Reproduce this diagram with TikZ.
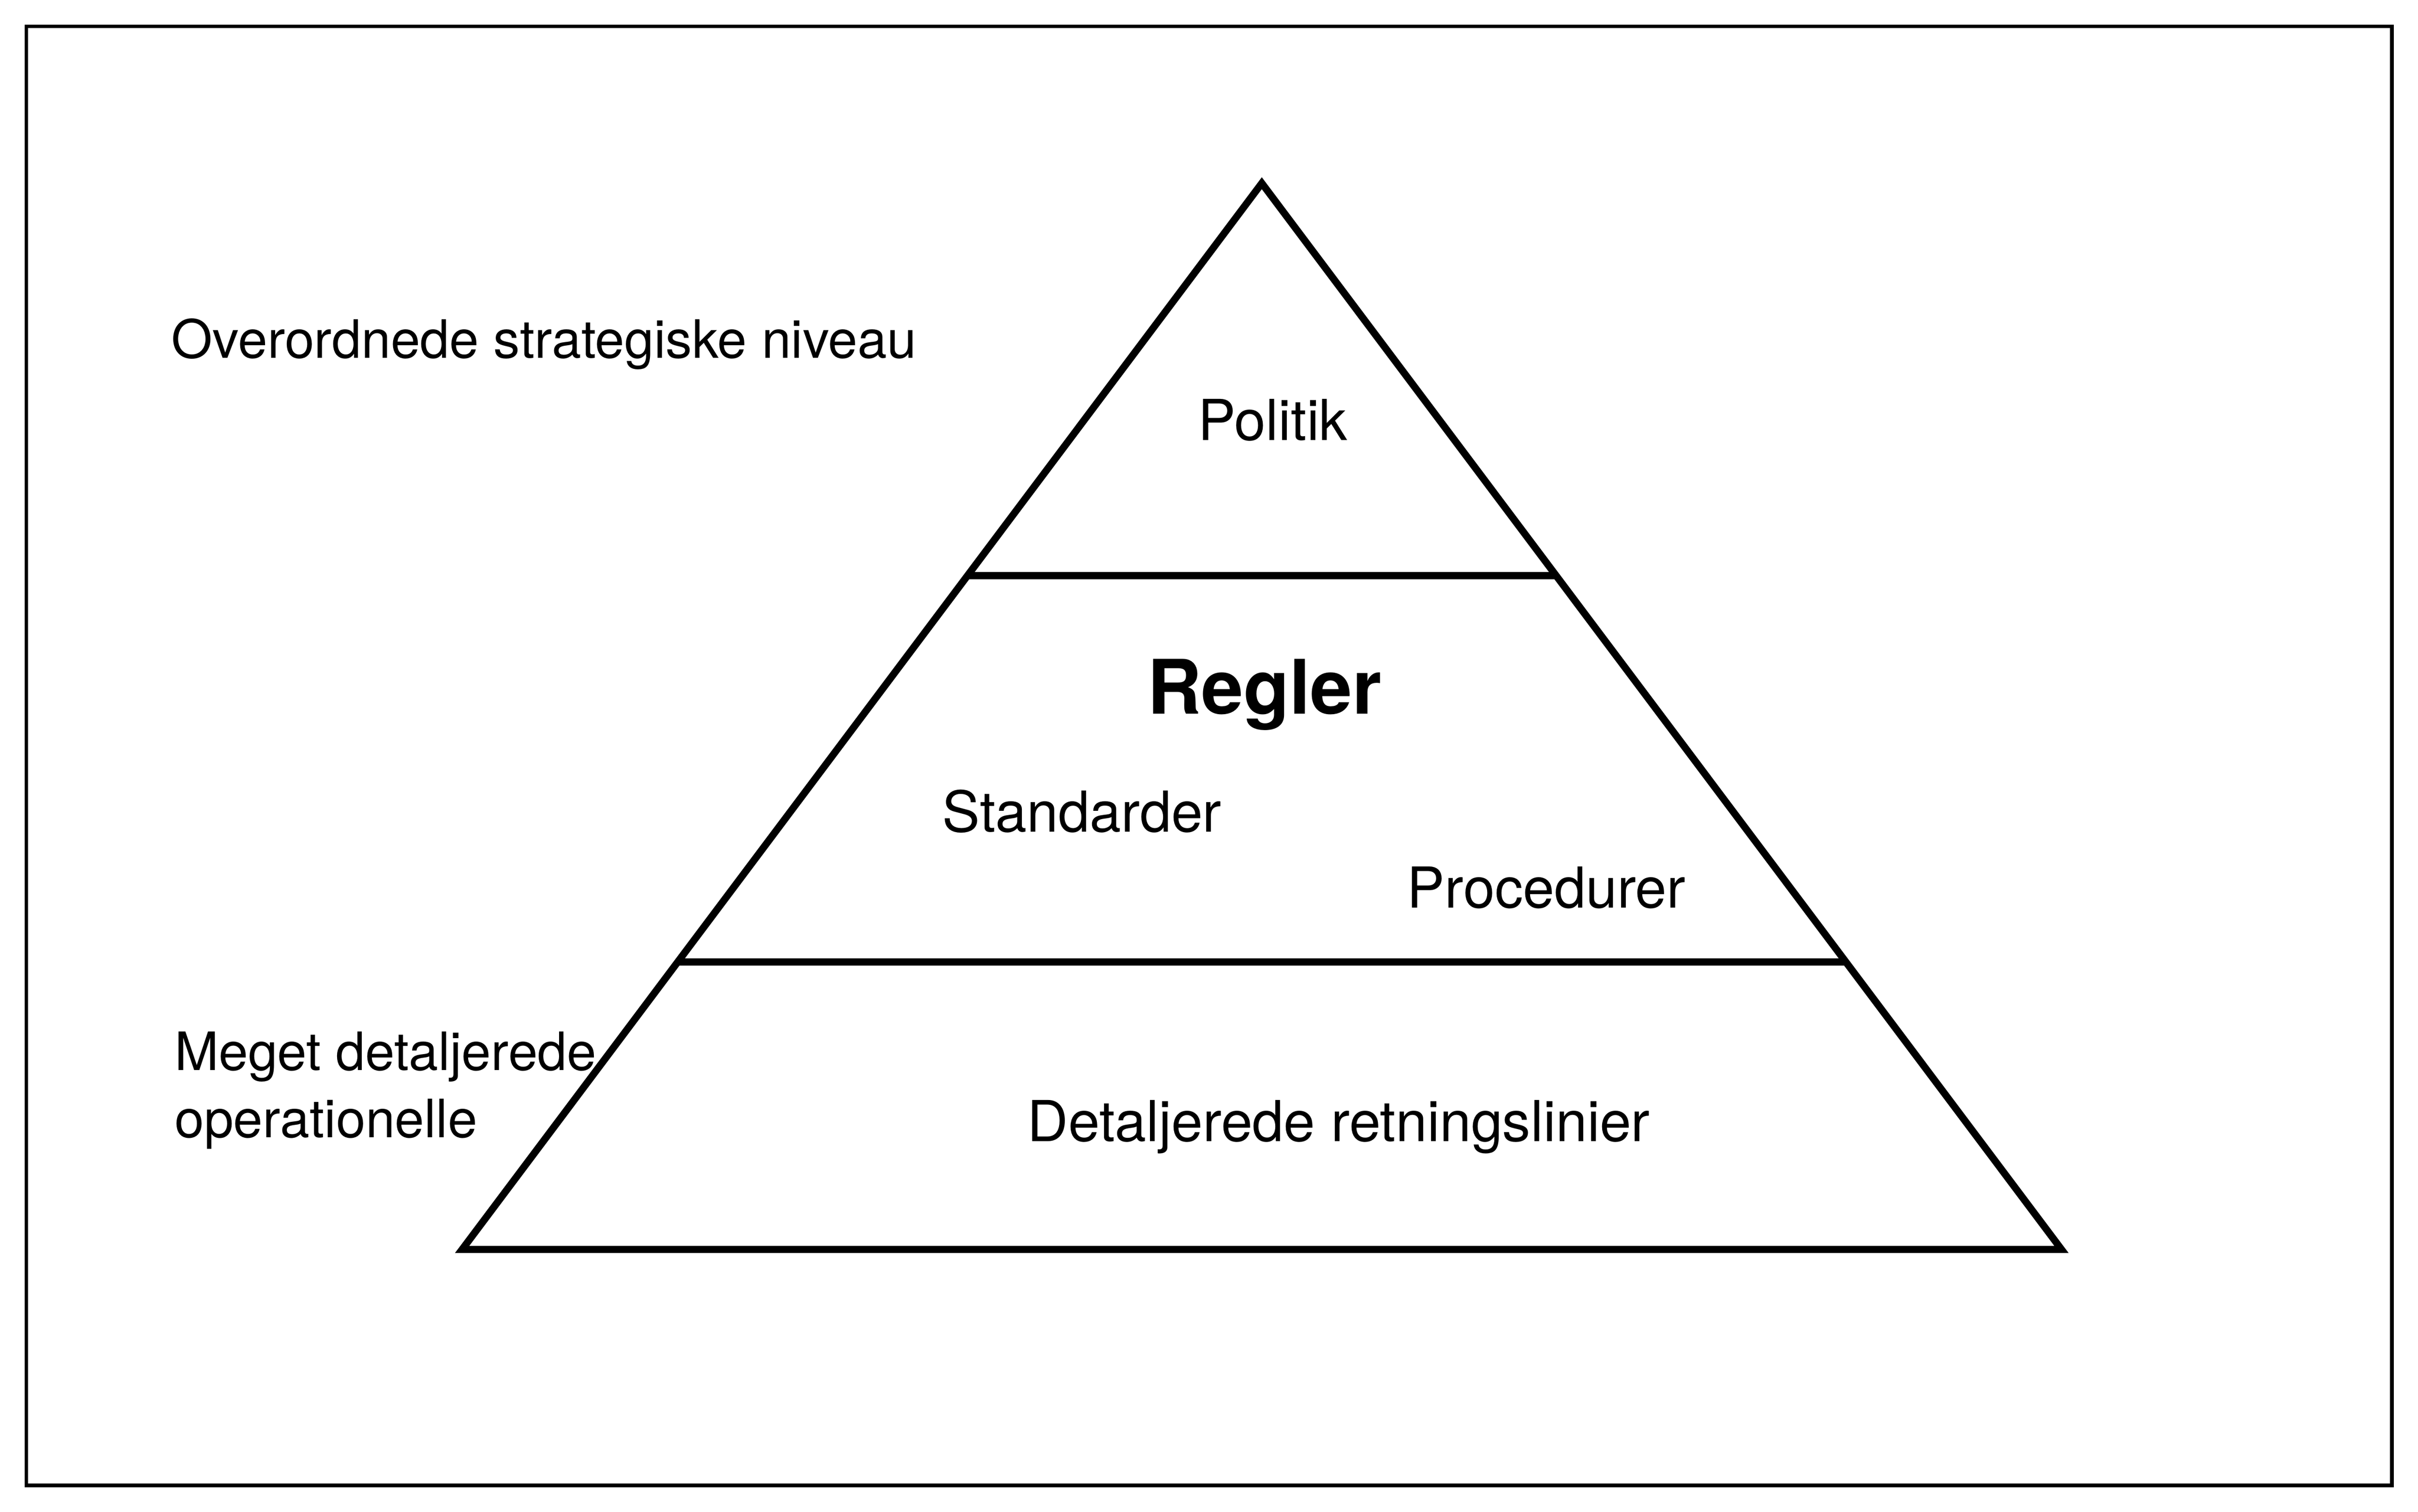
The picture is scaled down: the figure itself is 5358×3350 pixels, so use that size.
\documentclass[tikz,border=0pt]{standalone}
\usepackage{fontspec}
\setmainfont{TeX Gyre Heros}
\usetikzlibrary{calc}

\begin{document}
\begin{tikzpicture}[x=0.0947pt,y=-0.0947pt,
  level/.style={line width=1.5pt,miter limit=10},
  txt/.style={anchor=base west,inner sep=0pt,font=\fontsize{11.85}{14.1}\selectfont},
  side/.style={anchor=base west,inner sep=0pt,align=left,font=\fontsize{11.1}{14.1}\selectfont},
  head/.style={anchor=base west,inner sep=0pt,font=\fontsize{15.8}{19}\selectfont\bfseries}]
\useasboundingbox (0,0) rectangle (5358,3350);
\draw[line width=0.75pt] (58.5,58.5) rectangle (5300,3292);

\coordinate (top) at (2796,406);
\coordinate (bl) at (1024,2769);
\coordinate (br) at (4568,2769);
\draw[level] (top) -- (bl) -- (br) -- cycle;

\coordinate (l1) at ($(top)!0.368!(bl)$);
\coordinate (r1) at ($(top)!0.368!(br)$);
\coordinate (l2) at ($(top)!0.7304!(bl)$);
\coordinate (r2) at ($(top)!0.7304!(br)$);
\draw[level] (l1) -- (r1);
\draw[level] (l2) -- (r2);

% labels; the two-line node sits on its last baseline
\node[side] (strat) at (378,793) {Overordnede strategiske niveau};
\node[side] (oper) at (385,2521) {Meget detaljerede\\operationelle};
\node[txt] (pol) at (2653,976) {Politik};
\node[head] (regl) at (2540,1582) {Regler};
\node[txt] (std) at (2086,1844) {Standarder};
\node[txt] (proc) at (3116,2012) {Procedurer};
\node[txt] (retn) at (2275,2530) {Detaljerede retningslinier};
\end{tikzpicture}
\end{document}
